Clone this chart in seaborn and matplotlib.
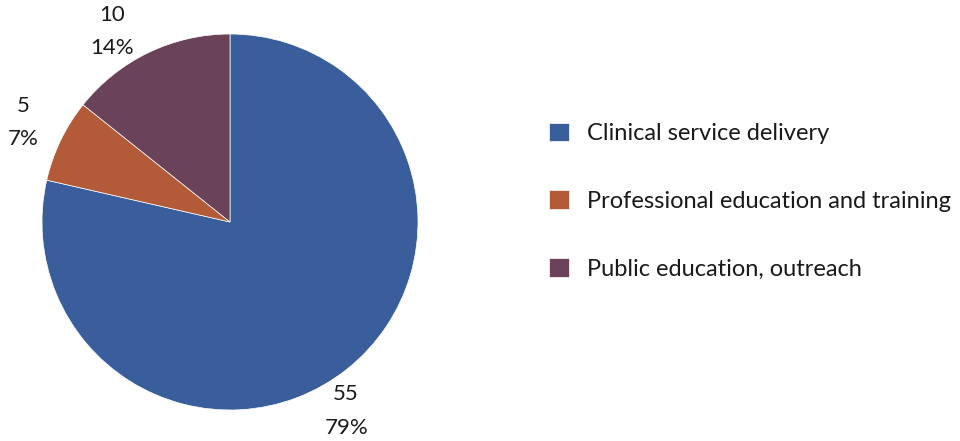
import matplotlib
matplotlib.use("Agg")
import numpy as np
import matplotlib.pyplot as plt
import seaborn as sns

categories = ["Clinical service delivery", "Professional education and training", "Public education, outreach"]
values = [55, 5, 10]
colors = ["#3A5E9C", "#B35B39", "#6A4259"]

# label placement tweaks (degrees shift from wedge middle, distance in radii)
label_shift = [-7, 0, 6]
label_dist = [1.18, 1.22, 1.19]

sns.set_theme(style="white")
plt.rcParams['font.family'] = ['Lato', 'DejaVu Sans']

total = sum(values)
labels = [f"{v}\n{round(v / total * 100)}%" for v in values]

fig = plt.figure(figsize=(9.6, 4.41), dpi=100)
ax = fig.add_axes([42 / 960, 31 / 441, 376 / 960, 376 / 441])

wedges, texts = ax.pie(values, colors=sns.color_palette(colors), startangle=90, counterclock=False,
                       labels=labels, radius=1,
                       wedgeprops=dict(linewidth=0.5, edgecolor="white"),
                       textprops=dict(fontsize=16, color="#1a1a1a", linespacing=1.85))
for w, t, s, d in zip(wedges, texts, label_shift, label_dist):
    ang = np.deg2rad((w.theta1 + w.theta2) / 2 + s)
    t.set_position((d * np.cos(ang), d * np.sin(ang)))
    t.set_horizontalalignment("center")
    t.set_verticalalignment("center")
ax.set_xlim(-1, 1)
ax.set_ylim(-1, 1)
ax.set_aspect("equal")
ax.axis("off")

leg = fig.legend(wedges, categories, loc="center left", bbox_to_anchor=(549 / 960, 1 - 201 / 441),
                 frameon=False, fontsize=17, handlelength=0.85, handleheight=0.85,
                 handletextpad=0.75, labelspacing=1.95, borderaxespad=0, borderpad=0)
for txt in leg.get_texts():
    txt.set_color("#1a1a1a")

fig.savefig("out.png", dpi=100)
